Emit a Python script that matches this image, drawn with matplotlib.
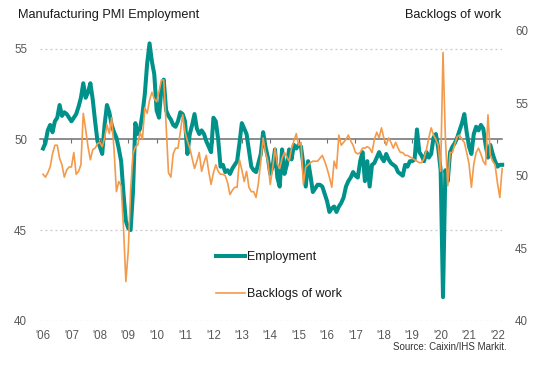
import matplotlib
matplotlib.use("Agg")
import matplotlib.pyplot as plt
import numpy as np

plt.rcParams['font.family'] = ['Liberation Sans', 'DejaVu Sans']

start_year = 2006
employment = [
    49.5, 49.8, 50.5, 50.8, 50.4, 51.0, 51.2, 51.9, 51.3, 51.5, 51.4, 51.2,   # 2006
    51.0, 51.2, 51.4, 51.8, 52.3, 53.1, 52.3, 52.6, 53.1, 52.2, 51.0, 49.9,   # 2007
    49.6, 49.2, 50.8, 51.9, 51.5, 50.8, 50.4, 50.1, 49.5, 48.8, 47.0, 45.5,   # 2008
    45.1, 45.0, 47.1, 50.9, 50.3, 50.6, 51.4, 52.5, 54.2, 55.3, 54.3, 53.6,   # 2009
    51.6, 51.2, 52.8, 53.3, 51.6, 51.3, 51.1, 50.8, 50.7, 51.0, 51.5, 51.4,   # 2010
    51.0, 49.2, 50.3, 50.8, 51.4, 50.6, 50.3, 50.5, 50.3, 49.9, 49.6, 49.3,   # 2011
    51.2, 51.0, 50.0, 48.5, 48.6, 48.2, 48.3, 48.1, 48.4, 48.6, 48.8, 49.8,   # 2012
    50.9, 50.6, 50.3, 49.4, 48.5, 48.3, 48.2, 48.7, 49.2, 50.4, 49.6, 49.0,   # 2013
    48.1, 48.5, 49.45, 47.9, 47.4, 49.45, 48.1, 48.6, 49.45, 48.9, 49.7, 49.5,  # 2014
    49.7, 49.6, 48.6, 47.4, 48.8, 48.0, 47.1, 47.3, 47.5, 47.5, 47.4, 47.0,   # 2015
    46.6, 46.0, 46.2, 46.3, 46.0, 46.3, 46.5, 46.8, 47.4, 47.7, 47.9, 48.2,   # 2016
    48.0, 47.9, 48.8, 49.3, 47.7, 48.8, 47.4, 48.6, 48.7, 49.0, 49.3, 49.0,   # 2017
    48.8, 49.2, 48.9, 48.7, 48.6, 48.5, 48.2, 48.1, 48.0, 48.6, 48.5, 48.8,   # 2018
    48.8, 48.9, 50.55, 49.3, 49.1, 48.8, 49.3, 49.0, 49.2, 50.1, 50.3, 49.5,  # 2019
    48.3, 41.3, 48.3, 47.7, 49.3, 49.6, 49.8, 50.1, 50.5, 50.9, 51.4, 50.4,   # 2020
    49.6, 49.2, 50.3, 50.7, 50.5, 50.8, 50.6, 49.7, 49.0, 49.7, 49.2, 48.8,   # 2021
    48.5, 48.6, 48.6,                                                         # 2022
]
backlogs = [
    50.1, 49.9, 50.2, 50.6, 51.5, 52.1, 52.1, 51.2, 50.75, 49.9, 50.4, 50.6,  # 2006
    50.6, 51.6, 50.1, 50.3, 50.75, 54.3, 53.2, 52.0, 51.1, 51.8, 51.9, 52.2,  # 2007
    52.3, 52.0, 52.6, 53.5, 52.9, 54.0, 51.8, 48.9, 49.6, 49.3, 46.4, 42.7,   # 2008
    44.8, 49.0, 51.5, 52.0, 52.1, 53.0, 52.5, 54.7, 54.3, 55.2, 55.75, 55.3,  # 2009
    55.1, 55.8, 56.6, 56.6, 53.5, 50.2, 49.9, 51.5, 51.9, 51.9, 53.0, 54.2,   # 2010
    53.0, 52.4, 51.9, 51.2, 50.5, 51.0, 51.6, 50.3, 50.9, 51.4, 50.3, 49.4,   # 2011
    50.2, 50.75, 50.3, 50.1, 50.1, 50.0, 49.5, 48.7, 49.0, 49.2, 49.2, 51.1,  # 2012
    50.4, 49.6, 50.3, 49.2, 48.9, 48.9, 48.5, 49.5, 51.0, 52.6, 51.6, 51.0,   # 2013
    49.4, 50.5, 51.9, 50.8, 50.5, 51.2, 51.6, 51.3, 51.0, 51.9, 52.4, 52.9,   # 2014
    52.1, 52.3, 49.4, 50.6, 50.75, 50.9, 51.0, 51.0, 51.0, 51.2, 51.4, 51.0,  # 2015
    50.5, 49.9, 49.2, 51.0, 50.5, 52.8, 52.1, 52.3, 52.5, 52.8, 52.4, 52.1,   # 2016
    51.6, 51.5, 51.6, 51.9, 51.9, 52.0, 51.9, 51.6, 52.5, 53.0, 52.6, 53.3,   # 2017
    52.6, 52.1, 52.6, 52.3, 51.9, 52.3, 51.9, 51.6, 51.6, 51.4, 51.4, 51.3,   # 2018
    51.2, 51.1, 51.0, 50.9, 50.9, 51.2, 51.8, 52.6, 53.3, 52.8, 52.5, 52.1,   # 2019
    50.3, 58.5, 52.6, 49.3, 51.6, 51.6, 52.2, 52.7, 52.8, 52.5, 52.3, 51.6,   # 2020
    50.8, 49.2, 50.8, 51.6, 51.9, 51.5, 51.0, 50.75, 54.2, 51.4, 51.0, 50.75, # 2021
    49.5, 48.5, 50.5,                                                         # 2022
]
year_ticks = list(range(2006, 2023))
year_labels = ["'%02d" % (y % 100) for y in year_ticks]
left_ticks = [40, 45, 50, 55]
right_ticks = [40, 45, 50, 55, 60]

x = start_year + np.arange(len(employment)) / 12.0

W, H = 537, 368
fig = plt.figure(figsize=(W / 100, H / 100), dpi=100)
axl, axr_px, axt, axb = 40.2, 502.0, 30.7, 320.7
ax = fig.add_axes([axl / W, 1 - axb / H, (axr_px - axl) / W, (axb - axt) / H])
ax.patch.set_alpha(0)

teal = '#00928A'
orange = '#F39A4B'
grey = '#595959'

ax.set_xlim(2005.9, 2005.9 + (axr_px - axl) / 28.4)
ax.set_ylim(40, 56)
for g in [40, 45, 55]:
    ax.axhline(g, color='#C8C8C8', lw=0.9, ls=(0, (1.5, 2.5)), zorder=0)
for s in ['left', 'right', 'bottom']:
    ax.spines[s].set_visible(False)
ax.spines['top'].set_position(('data', 50))
ax.spines['top'].set_color('#6E6E6E')
ax.spines['top'].set_linewidth(1.1)
ax.spines['top'].set_zorder(1)

ax.set_xticks(year_ticks)
ax.set_xticklabels(year_labels)
ax.tick_params(axis='x', bottom=False, top=True, labeltop=False, labelbottom=True,
               direction='in', length=3, width=0.8, color='#6E6E6E',
               labelsize=8.3, labelcolor=grey, pad=7)

l1, = ax.plot(x, employment, color=teal, lw=2.9, solid_joinstyle='round', zorder=3,
              clip_on=False, label='Employment')

ax2 = ax.twinx()
ax2.set_ylim(40, 60)
ax2.set_yticks(right_ticks)
for s in ax2.spines.values():
    s.set_visible(False)
ax2.tick_params(axis='y', left=False, right=False, labelleft=False, labelright=True,
                labelsize=8.3, labelcolor=grey, pad=6)
l2, = ax2.plot(x, backlogs, color=orange, lw=1.2, zorder=4, clip_on=False,
               label='Backlogs of work')

ax.set_yticks(left_ticks)
ax.tick_params(axis='y', left=False, right=False, labelleft=True, labelright=False,
               labelsize=8.3, labelcolor=grey, pad=6)

fig.text(18 / W, 1 - 15 / H, 'Manufacturing PMI Employment', fontsize=9.2,
         color='#1A1A1A', ha='left', va='center')
fig.text(501 / W, 1 - 15 / H, 'Backlogs of work', fontsize=9.2,
         color='#1A1A1A', ha='right', va='center')
fig.text(507 / W, 1 - 347 / H, 'Source: Caixin/IHS Markit.', fontsize=7,
         color='#333333', ha='right', va='center')

leg = fig.legend(handles=[l1, l2], loc='upper left',
                 bbox_to_anchor=(216 / W, 1 - 251 / H), frameon=False,
                 fontsize=9, handlelength=2.35, handletextpad=0.15,
                 labelspacing=2.0, borderpad=0, borderaxespad=0)
for t in leg.get_texts():
    t.set_color('#1A1A1A')

fig.savefig('out.png', dpi=100)
